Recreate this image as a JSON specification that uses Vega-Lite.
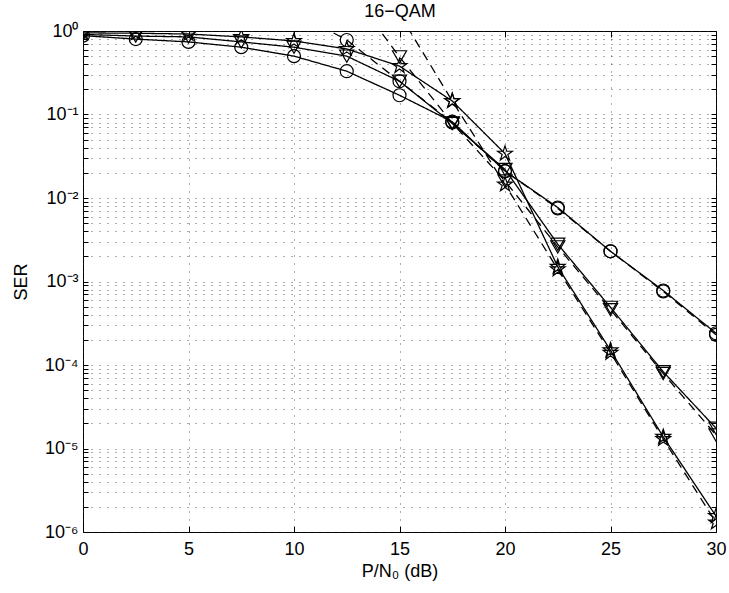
{
  "$schema": "https://vega.github.io/schema/vega-lite/v6.json",
  "width": 633,
  "height": 501,
  "autosize": {"type": "none"},
  "padding": {"left": 83, "top": 31, "right": 13, "bottom": 61},
  "background": "white",
  "config": {
    "view": {"stroke": "black", "strokeWidth": 1},
    "font": "Liberation Sans",
    "axis": {"labelFont": "Liberation Sans", "titleFont": "Liberation Sans", "labelColor": "black", "titleColor": "black", "tickColor": "black", "domainColor": "black", "titleFontWeight": "normal"},
    "legend": {"labelFont": "Liberation Sans", "labelFontSize": 18, "labelColor": "black"}
  },
  "data": {
    "values": [
      {"s": "a1", "x": 0, "y": 0.88}, {"s": "a1", "x": 2.5, "y": 0.80}, {"s": "a1", "x": 5, "y": 0.74}, {"s": "a1", "x": 7.5, "y": 0.64}, {"s": "a1", "x": 10, "y": 0.50}, {"s": "a1", "x": 12.5, "y": 0.33}, {"s": "a1", "x": 15, "y": 0.17}, {"s": "a1", "x": 17.5, "y": 0.082}, {"s": "a1", "x": 20, "y": 0.021}, {"s": "a1", "x": 22.5, "y": 0.0077}, {"s": "a1", "x": 25, "y": 0.0023}, {"s": "a1", "x": 27.5, "y": 0.00078}, {"s": "a1", "x": 30, "y": 0.00024},
      {"s": "b1", "x": 10, "y": 1.7}, {"s": "b1", "x": 12.5, "y": 0.78}, {"s": "b1", "x": 15, "y": 0.25}, {"s": "b1", "x": 17.5, "y": 0.08}, {"s": "b1", "x": 20, "y": 0.021}, {"s": "b1", "x": 22.5, "y": 0.0075}, {"s": "b1", "x": 25, "y": 0.0023}, {"s": "b1", "x": 27.5, "y": 0.00076}, {"s": "b1", "x": 30, "y": 0.00023},
      {"s": "a2", "x": 0, "y": 0.91}, {"s": "a2", "x": 2.5, "y": 0.87}, {"s": "a2", "x": 5, "y": 0.85}, {"s": "a2", "x": 7.5, "y": 0.74}, {"s": "a2", "x": 10, "y": 0.64}, {"s": "a2", "x": 12.5, "y": 0.50}, {"s": "a2", "x": 15, "y": 0.25}, {"s": "a2", "x": 17.5, "y": 0.078}, {"s": "a2", "x": 20, "y": 0.022}, {"s": "a2", "x": 22.5, "y": 0.0028}, {"s": "a2", "x": 25, "y": 0.00049}, {"s": "a2", "x": 27.5, "y": 0.000083}, {"s": "a2", "x": 30, "y": 0.0000175},
      {"s": "b2", "x": 12.5, "y": 3.5}, {"s": "b2", "x": 15, "y": 0.49}, {"s": "b2", "x": 17.5, "y": 0.079}, {"s": "b2", "x": 20, "y": 0.016}, {"s": "b2", "x": 22.5, "y": 0.0026}, {"s": "b2", "x": 25, "y": 0.00046}, {"s": "b2", "x": 27.5, "y": 0.000079}, {"s": "b2", "x": 30, "y": 0.0000145},
      {"s": "a3", "x": 0, "y": 0.95}, {"s": "a3", "x": 2.5, "y": 0.94}, {"s": "a3", "x": 5, "y": 0.92}, {"s": "a3", "x": 7.5, "y": 0.85}, {"s": "a3", "x": 10, "y": 0.76}, {"s": "a3", "x": 12.5, "y": 0.61}, {"s": "a3", "x": 15, "y": 0.38}, {"s": "a3", "x": 17.5, "y": 0.145}, {"s": "a3", "x": 20, "y": 0.034}, {"s": "a3", "x": 22.5, "y": 0.0015}, {"s": "a3", "x": 25, "y": 0.00015}, {"s": "a3", "x": 27.5, "y": 0.0000138}, {"s": "a3", "x": 30, "y": 0.00000155},
      {"s": "b3", "x": 15, "y": 1.6}, {"s": "b3", "x": 17.5, "y": 0.145}, {"s": "b3", "x": 20, "y": 0.0145}, {"s": "b3", "x": 22.5, "y": 0.0014}, {"s": "b3", "x": 25, "y": 0.00014}, {"s": "b3", "x": 27.5, "y": 0.000013}, {"s": "b3", "x": 30, "y": 0.0000013}
    ]
  },
  "layer": [
    {
      "mark": {"type": "line", "color": "black", "strokeWidth": 1.3, "clip": true},
      "encoding": {
        "x": {"field": "x", "type": "quantitative",
          "scale": {"domain": [0, 30], "nice": false, "zero": false},
          "axis": {"orient": "bottom", "values": [0, 5, 10, 15, 20, 25, 30], "grid": true, "gridColor": "#333333", "gridDash": [1, 7], "gridWidth": 1, "gridOpacity": 0.8, "tickSize": -6, "labelPadding": 14, "labelFontSize": 18, "labelFlush": false, "labelOverlap": false, "title": "P/N₀ (dB)", "titleFontSize": 18, "titlePadding": 4, "domain": false}
        },
        "y": {"field": "y", "type": "quantitative",
          "scale": {"type": "log", "domain": [0.000001, 1], "nice": false},
          "axis": {"orient": "left",
            "values": [0.000001, 0.000002, 0.000003, 0.000004, 0.000005, 0.000006, 0.000007, 0.000008, 0.000009, 0.00001, 0.00002, 0.00003, 0.00004, 0.00005, 0.00006, 0.00007, 0.00008, 0.00009, 0.0001, 0.0002, 0.0003, 0.0004, 0.0005, 0.0006, 0.0007, 0.0008, 0.0009, 0.001, 0.002, 0.003, 0.004, 0.005, 0.006, 0.007, 0.008, 0.009, 0.01, 0.02, 0.03, 0.04, 0.05, 0.06, 0.07, 0.08, 0.09, 0.1, 0.2, 0.3, 0.4, 0.5, 0.6, 0.7, 0.8, 0.9, 1],
            "labelExpr": "datum.value == 1 ? '10⁰' : datum.value == 0.1 ? '10⁻¹' : datum.value == 0.01 ? '10⁻²' : datum.value == 0.001 ? '10⁻³' : datum.value == 0.0001 ? '10⁻⁴' : datum.value == 0.00001 ? '10⁻⁵' : datum.value == 0.000001 ? '10⁻⁶' : ''",
            "tickSize": -5,
            "grid": true, "gridColor": "#333333", "gridDash": [1, 7], "gridWidth": 1, "gridOpacity": 0.8,
            "labelPadding": 10, "labelFontSize": 18, "labelBaseline": "middle", "labelFlush": false, "labelOverlap": false,
            "title": "SER", "titleFontSize": 18, "titlePadding": 14, "domain": false}
        },
        "strokeDash": {"field": "s", "type": "nominal",
          "scale": {"domain": ["a1", "b1", "a2", "b2", "a3", "b3"], "range": [[1, 0], [9, 6], [1, 0], [9, 6], [1, 0], [9, 6]]},
          "legend": null}
      }
    },
    {
      "transform": [{"filter": "datum.s == 'a1' || datum.s == 'b1'"}],
      "mark": {"type": "point", "shape": "circle", "size": 169, "filled": false, "color": "black", "strokeWidth": 1.2, "opacity": 1, "clip": true},
      "encoding": {
        "x": {"field": "x", "type": "quantitative", "axis": null},
        "y": {"field": "y", "type": "quantitative", "axis": null}
      }
    },
    {
      "transform": [{"filter": "datum.s == 'a2' || datum.s == 'b2'"}],
      "mark": {"type": "point", "shape": "triangle-down", "size": 200, "filled": false, "color": "black", "strokeWidth": 1.2, "opacity": 1, "clip": true},
      "encoding": {
        "x": {"field": "x", "type": "quantitative", "axis": null},
        "y": {"field": "y", "type": "quantitative", "axis": null}
      }
    },
    {
      "transform": [{"filter": "datum.s == 'a3' || datum.s == 'b3'"}],
      "mark": {"type": "point", "shape": "M0,-1L0.2245,-0.309L0.951,-0.309L0.3633,0.118L0.5878,0.809L0,0.382L-0.5878,0.809L-0.3633,0.118L-0.951,-0.309L-0.2245,-0.309Z", "size": 240, "filled": false, "color": "black", "strokeWidth": 1.2, "opacity": 1, "clip": true},
      "encoding": {
        "x": {"field": "x", "type": "quantitative", "axis": null},
        "y": {"field": "y", "type": "quantitative", "axis": null}
      }
    },
    {
      "transform": [{"filter": "datum.s == 'none'"}],
      "mark": {"type": "point", "filled": false, "color": "black", "strokeWidth": 1.2, "clip": true},
      "encoding": {
        "x": {"field": "x", "type": "quantitative",
          "axis": {"orient": "top", "values": [0, 5, 10, 15, 20, 25, 30], "labels": false, "grid": false, "tickSize": -6, "domain": false, "title": "16−QAM", "titleFontSize": 18, "titlePadding": 10}},
        "y": {"field": "y", "type": "quantitative",
          "axis": {"orient": "right",
            "values": [0.000001, 0.000002, 0.000003, 0.000004, 0.000005, 0.000006, 0.000007, 0.000008, 0.000009, 0.00001, 0.00002, 0.00003, 0.00004, 0.00005, 0.00006, 0.00007, 0.00008, 0.00009, 0.0001, 0.0002, 0.0003, 0.0004, 0.0005, 0.0006, 0.0007, 0.0008, 0.0009, 0.001, 0.002, 0.003, 0.004, 0.005, 0.006, 0.007, 0.008, 0.009, 0.01, 0.02, 0.03, 0.04, 0.05, 0.06, 0.07, 0.08, 0.09, 0.1, 0.2, 0.3, 0.4, 0.5, 0.6, 0.7, 0.8, 0.9, 1],
            "labels": false, "grid": false, "domain": false, "title": null, "tickSize": -5}},
        "shape": {"field": "s", "type": "nominal",
          "scale": {"domain": ["a1", "b1", "a2", "b2", "a3", "b3"],
            "range": [
              "M-0.19,0L8.81,0M5.31,0L5.234,0.383L5.017,0.707L4.693,0.924L4.31,1L3.927,0.924L3.603,0.707L3.386,0.383L3.31,0L3.386,-0.383L3.603,-0.707L3.927,-0.924L4.31,-1L4.693,-0.924L5.017,-0.707L5.234,-0.383Z",
              "M-0.19,0L1.31,0M3.56,0L5.06,0M7.31,0L8.81,0M5.31,0L5.234,0.383L5.017,0.707L4.693,0.924L4.31,1L3.927,0.924L3.603,0.707L3.386,0.383L3.31,0L3.386,-0.383L3.603,-0.707L3.927,-0.924L4.31,-1L4.693,-0.924L5.017,-0.707L5.234,-0.383Z",
              "M-0.19,0L8.81,0M3.26,-0.8L5.36,-0.8L4.31,1.05Z",
              "M-0.19,0L1.31,0M3.56,0L5.06,0M7.31,0L8.81,0M3.26,-0.8L5.36,-0.8L4.31,1.05Z",
              "M-0.19,0L8.81,0M4.31,-1.15L4.569,-0.356L5.404,-0.355L4.728,0.136L4.986,0.93L4.31,0.44L3.634,0.93L3.892,0.136L3.216,-0.355L4.051,-0.356Z",
              "M-0.19,0L1.31,0M3.56,0L5.06,0M7.31,0L8.81,0M4.31,-1.15L4.569,-0.356L5.404,-0.355L4.728,0.136L4.986,0.93L4.31,0.44L3.634,0.93L3.892,0.136L3.216,-0.355L4.051,-0.356Z"
            ]},
          "legend": {"title": null, "orient": "none", "legendX": 14, "legendY": 345, "direction": "vertical",
            "labelExpr": "datum.value == 'a1' ? '1 relay' : datum.value == 'a2' ? '2 relays' : datum.value == 'a3' ? '3 relays' : 'SER bound'",
            "symbolSize": 169, "labelOffset": 57, "rowPadding": 6,
            "strokeColor": "black", "fillColor": "white", "padding": 5}
        }
      }
    }
  ],
  "resolve": {"axis": {"x": "independent", "y": "independent"}}
}
